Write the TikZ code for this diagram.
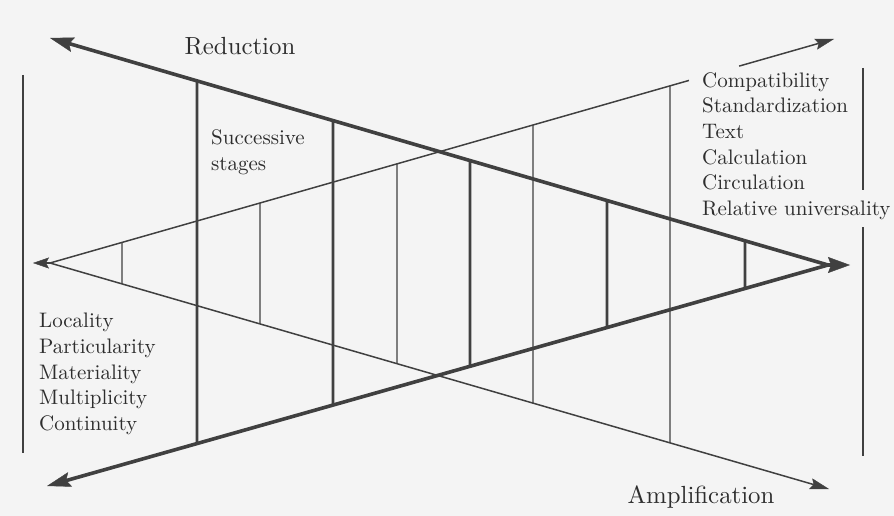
\documentclass[tikz,border=0pt]{standalone}
\usepackage{fontspec}
\usepackage{tikz}
\usetikzlibrary {arrows.meta,
                 calc,
                 positioning}
\newfontfamily\diafont{lmroman10-regular.otf}
\definecolor{ink}{HTML}{404040}
\definecolor{paper}{HTML}{F4F4F4}
\tikzset{
        base/.style={text=ink!70!black, inner sep=0pt, align=left},
        title/.style={base, font=\diafont\fontsize{24.8}{28}\selectfont},
        list/.style={base, anchor=west,
                     font=\diafont\fontsize{21}{25.7}\selectfont},
        redline/.style={draw=ink, line width=3.6pt},
        ampline/.style={draw=ink, line width=1.5pt},
        stagethick/.style={draw=ink, line width=2.8pt},
        stagethin/.style={draw=ink, line width=1.2pt},
        redarrow/.style={redline,
                 -{Stealth[length=24pt, width=15pt, inset=4pt, line width=0.4pt]}},
        tiparrow/.style={redline,
                 -{Stealth[length=22pt, width=16pt, inset=3pt, line width=0.4pt]}},
        amparrow/.style={ampline,
                 -{Stealth[length=19pt, width=11pt, inset=3pt, line width=0.4pt]}},
        backarrow/.style={ampline,
                 -{Stealth[length=16pt, width=11pt, inset=3pt, line width=0.4pt]}},
 }

\begin{document}
\begin{tikzpicture}[x=1pt, y=-1pt]
    \fill[paper] (0,0) rectangle (894,516);
    \useasboundingbox (0,0) rectangle (894,516);

    % the two wedges
    \coordinate (redapex) at (850,265);
    \coordinate (redjoin) at (828,265);
    \coordinate (redtop) at (50,38);
    \coordinate (redbot) at (47,486);
    \coordinate (ampapex) at (33,263);
    \coordinate (ampjoin) at (50,263);
    \coordinate (amptop) at (834,39);
    \coordinate (ampbot) at (829,489);

    \node[title] (reduction) at (240,46) {Reduction};
    \node[title] (amplification) at (701,497) {Amplification};
    \node[list] (stages) at (211,152) {Successive\\stages};
    \node[list] (universal) at (702,146) {Compatibility\\Standardization\\
        Text\\Calculation\\Circulation\\Relative universality};
    \node[list] (local) at (39,374) {Locality\\Particularity\\Materiality\\
        Multiplicity\\Continuity};

    \draw[redarrow] (redjoin) -- (redtop);
    \draw[redarrow] (redjoin) -- (redbot);
    \draw[tiparrow] (redjoin) -- (redapex);

    \draw[ampline] (ampjoin) -- ($(ampjoin)!0.815!(amptop)$);
    \draw[amparrow] ($(ampjoin)!0.879!(amptop)$) -- (amptop);
    \draw[amparrow] (ampjoin) -- (ampbot);
    \draw[backarrow] (ampjoin) -- (ampapex);

    % stages
    \foreach \x in {197,333,470,607,745}
        \draw[stagethick] (intersection of \x,0--\x,1 and redtop--redjoin)
            -- (intersection of \x,0--\x,1 and redbot--redjoin);
    \foreach \x in {122,260,397,533,670}
        \draw[stagethin] (intersection of \x,0--\x,1 and ampjoin--amptop)
            -- (intersection of \x,0--\x,1 and ampjoin--ampbot);

    % side bars
    \draw[draw=ink, line width=2.2pt] (23,75) -- (23,453);
    \draw[draw=ink, line width=1.4pt] (863,68) -- (863,190);
    \draw[draw=ink, line width=1.4pt] (863,227) -- (863,456);

\end{tikzpicture}
\end{document}
